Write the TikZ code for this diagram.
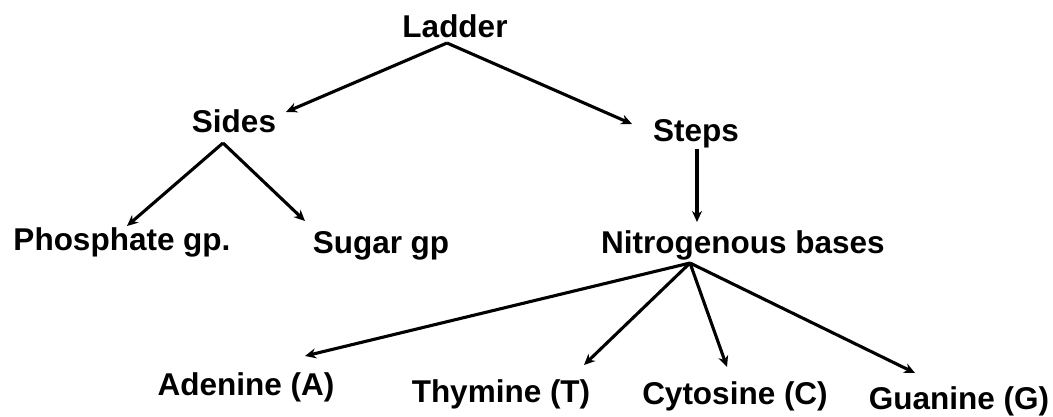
\documentclass[tikz,border=0pt]{standalone}
\usepackage{fontspec}
\setmainfont{Liberation Sans}
\usetikzlibrary{arrows.meta}
\begin{document}
\begin{tikzpicture}[x=1pt,y=-1pt,
  lbl/.style={anchor=base,inner sep=0pt,font=\fontsize{31.5}{36}\selectfont\bfseries},
  arr/.style={line width=3.1pt,-{Stealth[length=11pt,width=10pt]}}]
\useasboundingbox[fill=white] (0,0) rectangle (1053,417);
\node[lbl] (ladder) at (455,38) {Ladder};
\node[lbl] (sides) at (234,133) {Sides};
\node[lbl] (steps) at (696,142) {Steps};
\node[lbl] (phos) at (122,250) {Phosphate gp.};
\node[lbl] (sugar) at (381,253) {Sugar gp};
\node[lbl] (nitro) at (743,253) {Nitrogenous bases};
\node[lbl] (ade) at (246,395) {Adenine (A)};
\node[lbl] (thy) at (501,402) {Thymine (T)};
\node[lbl] (cyt) at (735,404) {Cytosine (C)};
\node[lbl] (gua) at (959,409) {Guanine (G)};
% connector ends
\coordinate (ladderout) at (447,43);
\coordinate (sidesin) at (286,112);
\coordinate (stepsin) at (632,124);
\coordinate (sidesout) at (223,143);
\coordinate (phosin) at (127,226);
\coordinate (sugarin) at (305,221);
\coordinate (stepsout) at (697,149);
\coordinate (nitroin) at (697,222);
\coordinate (nitroout) at (690,263);
\coordinate (adein) at (305,356);
\coordinate (thyin) at (584,365);
\coordinate (cytin) at (727,367);
\coordinate (guain) at (915,373);
\draw[arr] (ladderout) -- (sidesin);
\draw[arr] (ladderout) -- (stepsin);
\draw[arr] (sidesout) -- (phosin);
\draw[arr] (sidesout) -- (sugarin);
\draw[arr] (stepsout) -- (nitroin);
\draw[arr] (nitroout) -- (adein);
\draw[arr] (nitroout) -- (thyin);
\draw[arr] (nitroout) -- (cytin);
\draw[arr] (nitroout) -- (guain);
\end{tikzpicture}
\end{document}
